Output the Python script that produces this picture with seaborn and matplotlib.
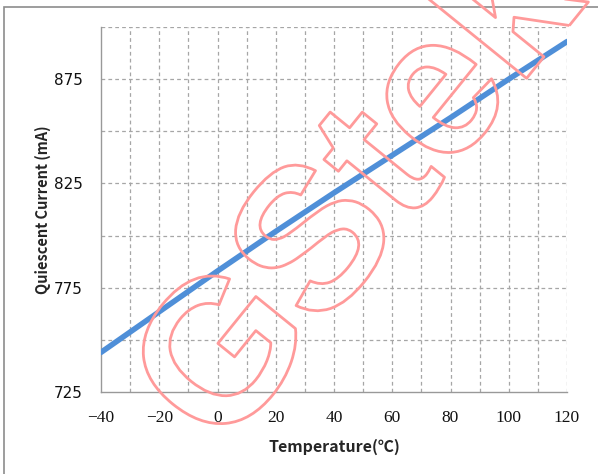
import matplotlib
matplotlib.use("Agg")
import matplotlib.pyplot as plt
import matplotlib.patheffects as pe
from matplotlib.patches import Rectangle
import seaborn as sns
import pandas as pd

temperature = [-40, -20, 0, 20, 40, 60, 80, 100, 120]
current = [744, 763.5, 783, 802, 820.5, 838.5, 856.5, 875, 893]
x_ticks = [-40, -20, 0, 20, 40, 60, 80, 100, 120]
y_ticks = [725, 775, 825, 875]

sns.set_theme(style="white")
plt.rcParams['font.family'] = ['DejaVu Sans', 'Noto Sans CJK SC']

df = pd.DataFrame({"T": temperature, "I": current})

fig = plt.figure(figsize=(5.98, 4.74), dpi=100)
ax = fig.add_axes([101/598, 1-392/474, (567-101)/598, (392-27)/474])

# outer frame
fig.patches.append(Rectangle((4/598, -0.05), 1.2, 1 - 7/474 + 0.05, transform=fig.transFigure,
                             fill=False, edgecolor='#8c8c8c', linewidth=1.2))

ax.set_xlim(-40, 120)
ax.set_ylim(725, 900)
for x in range(-30, 121, 10):
    ax.axvline(x, color='#a6a6a6', linestyle=(0, (3, 2.5)), linewidth=0.9, zorder=0)
for y in range(750, 901, 25):
    ax.axhline(y, color='#a6a6a6', linestyle=(0, (3, 2.5)), linewidth=0.9, zorder=0)

ax.set_xticks(x_ticks)
ax.set_xticklabels([str(v).replace('-', '\u2212') for v in x_ticks],
                   fontfamily='Liberation Serif', fontsize=12.5)
ax.set_yticks(y_ticks)
ax.set_yticklabels([str(v) for v in y_ticks], fontsize=11)
ax.tick_params(length=0, colors='#111111')
ax.tick_params(axis='x', pad=13)
ax.tick_params(axis='y', pad=13)

for s in ['top', 'right']:
    ax.spines[s].set_visible(False)
for s in ['left', 'bottom']:
    ax.spines[s].set_color('#999999')
    ax.spines[s].set_linewidth(1.0)

# watermark
fig.text(365/598, 1-196/474, "GStek", rotation=51, ha='center', va='center',
         fontsize=145, fontweight='bold', color=(1, 1, 1, 0), fontfamily='Liberation Sans',
         path_effects=[pe.Stroke(linewidth=2, foreground='#ff9a9a')], zorder=1)

sns.lineplot(data=df, x="T", y="I", ax=ax, color='#4f8fd8', linewidth=4, zorder=5)

ax.set_xlabel("Temperature(℃)", fontsize=11.5, fontweight='bold', labelpad=9,
              fontfamily=['Noto Sans CJK SC', 'DejaVu Sans'])
ax.set_ylabel("Quiescent Current (mA)", fontsize=10.5, fontweight='bold', labelpad=2,
              fontfamily=['Noto Sans CJK SC', 'DejaVu Sans'])

fig.savefig("out.png", dpi=100)
